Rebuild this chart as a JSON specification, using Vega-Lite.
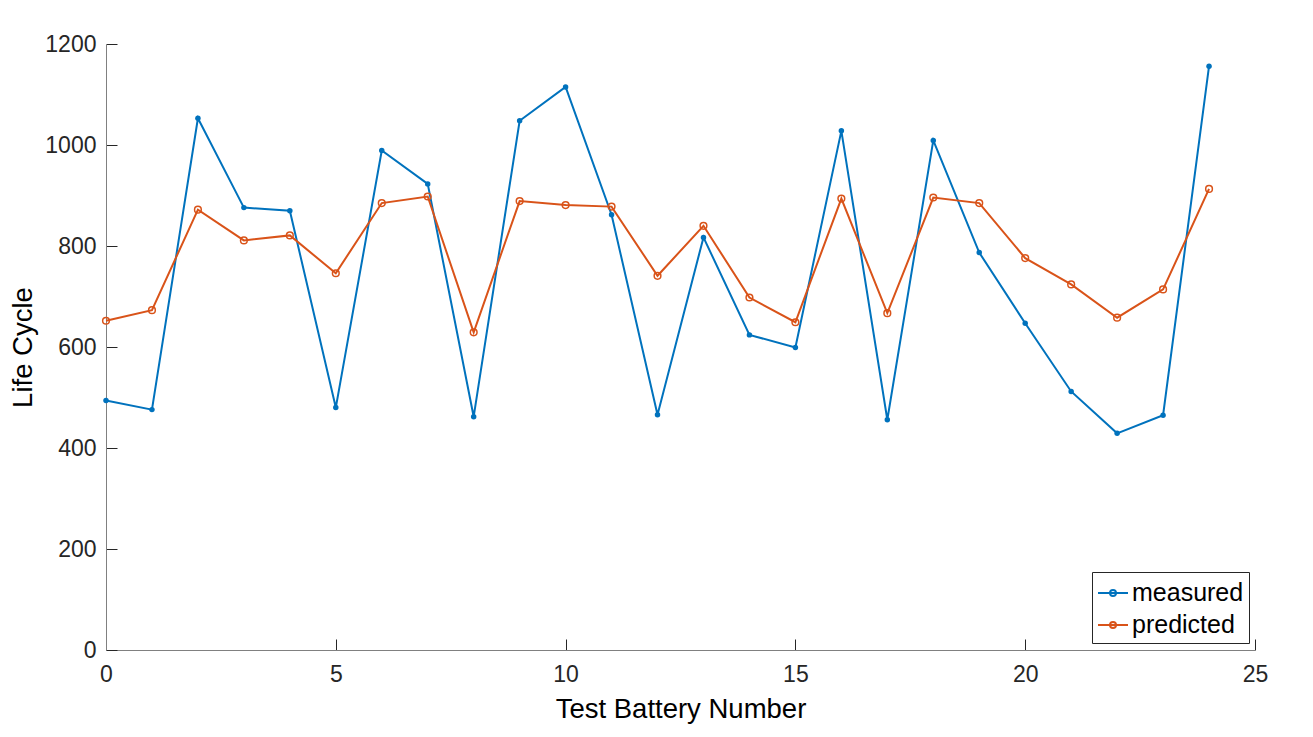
{
  "$schema": "https://vega.github.io/schema/vega-lite/v6.json",
  "autosize": {"type": "none"},
  "width": 1149,
  "height": 606,
  "padding": {"left": 106, "top": 44, "right": 58, "bottom": 87},
  "background": "white",
  "config": {
    "view": {"stroke": null},
    "font": "Liberation Sans",
    "axis": {
      "grid": false,
      "domainColor": "#808080",
      "domainWidth": 1,
      "tickColor": "#262626",
      "tickWidth": 1,
      "tickSize": -11,
      "labelColor": "#262626",
      "labelFont": "Liberation Sans",
      "labelFontSize": 23,
      "labelFlush": false,
      "labelOverlap": false,
      "format": "d",
      "titleColor": "#000000",
      "titleFont": "Liberation Sans",
      "titleFontSize": 27.5,
      "titleFontWeight": "normal"
    }
  },
  "data": {
    "values": [
      {"battery": 0, "series": "measured", "life": 494},
      {"battery": 1, "series": "measured", "life": 476},
      {"battery": 2, "series": "measured", "life": 1053},
      {"battery": 3, "series": "measured", "life": 876},
      {"battery": 4, "series": "measured", "life": 870},
      {"battery": 5, "series": "measured", "life": 480},
      {"battery": 6, "series": "measured", "life": 989},
      {"battery": 7, "series": "measured", "life": 923},
      {"battery": 8, "series": "measured", "life": 462},
      {"battery": 9, "series": "measured", "life": 1048},
      {"battery": 10, "series": "measured", "life": 1115},
      {"battery": 11, "series": "measured", "life": 862},
      {"battery": 12, "series": "measured", "life": 466},
      {"battery": 13, "series": "measured", "life": 817},
      {"battery": 14, "series": "measured", "life": 624},
      {"battery": 15, "series": "measured", "life": 599},
      {"battery": 16, "series": "measured", "life": 1028},
      {"battery": 17, "series": "measured", "life": 456},
      {"battery": 18, "series": "measured", "life": 1009},
      {"battery": 19, "series": "measured", "life": 787},
      {"battery": 20, "series": "measured", "life": 647},
      {"battery": 21, "series": "measured", "life": 512},
      {"battery": 22, "series": "measured", "life": 429},
      {"battery": 23, "series": "measured", "life": 465},
      {"battery": 24, "series": "measured", "life": 1156},
      {"battery": 0, "series": "predicted", "life": 652},
      {"battery": 1, "series": "predicted", "life": 673},
      {"battery": 2, "series": "predicted", "life": 872},
      {"battery": 3, "series": "predicted", "life": 811},
      {"battery": 4, "series": "predicted", "life": 821},
      {"battery": 5, "series": "predicted", "life": 746},
      {"battery": 6, "series": "predicted", "life": 885},
      {"battery": 7, "series": "predicted", "life": 898},
      {"battery": 8, "series": "predicted", "life": 629},
      {"battery": 9, "series": "predicted", "life": 889},
      {"battery": 10, "series": "predicted", "life": 881},
      {"battery": 11, "series": "predicted", "life": 878},
      {"battery": 12, "series": "predicted", "life": 741},
      {"battery": 13, "series": "predicted", "life": 840},
      {"battery": 14, "series": "predicted", "life": 698},
      {"battery": 15, "series": "predicted", "life": 649},
      {"battery": 16, "series": "predicted", "life": 894},
      {"battery": 17, "series": "predicted", "life": 667},
      {"battery": 18, "series": "predicted", "life": 896},
      {"battery": 19, "series": "predicted", "life": 885},
      {"battery": 20, "series": "predicted", "life": 776},
      {"battery": 21, "series": "predicted", "life": 724},
      {"battery": 22, "series": "predicted", "life": 658},
      {"battery": 23, "series": "predicted", "life": 714},
      {"battery": 24, "series": "predicted", "life": 913}
    ]
  },
  "encoding": {
    "x": {
      "field": "battery",
      "type": "quantitative",
      "scale": {"domain": [0, 25], "nice": false, "zero": false},
      "axis": {"title": "Test Battery Number", "values": [0, 5, 10, 15, 20, 25], "labelPadding": 24, "titlePadding": 9}
    },
    "y": {
      "field": "life",
      "type": "quantitative",
      "scale": {"domain": [0, 1200], "nice": false},
      "axis": {"title": "Life Cycle", "values": [0, 200, 400, 600, 800, 1000, 1200], "labelPadding": 21, "titlePadding": 7}
    }
  },
  "layer": [
    {
      "mark": {"type": "line", "strokeWidth": 2},
      "encoding": {
        "color": {
          "field": "series",
          "type": "nominal",
          "scale": {"domain": ["measured", "predicted"], "range": ["#0072BD", "#D95319"]},
          "legend": {
            "title": null,
            "orient": "none",
            "legendX": 986,
            "legendY": 528,
            "direction": "vertical",
            "fillColor": "white",
            "strokeColor": "#262626",
            "padding": 5,
            "labelFont": "Liberation Sans",
            "labelFontSize": 25,
            "labelColor": "#000000",
            "labelOffset": 3,
            "rowPadding": 3,
            "symbolType": "M-1,0H1M0.2,0A0.2,0.2 0 1,1 -0.2,0A0.2,0.2 0 1,1 0.2,0",
            "symbolSize": 900,
            "symbolStrokeWidth": 2,
            "symbolFillColor": "transparent"
          }
        }
      }
    },
    {
      "transform": [{"filter": "datum.series === 'measured'"}],
      "mark": {"type": "point", "shape": "circle", "filled": true, "color": "#0072BD", "size": 30, "opacity": 1}
    },
    {
      "transform": [{"filter": "datum.series === 'predicted'"}],
      "mark": {"type": "point", "shape": "circle", "filled": false, "color": "#D95319", "size": 45, "strokeWidth": 1.5, "opacity": 1}
    }
  ]
}
